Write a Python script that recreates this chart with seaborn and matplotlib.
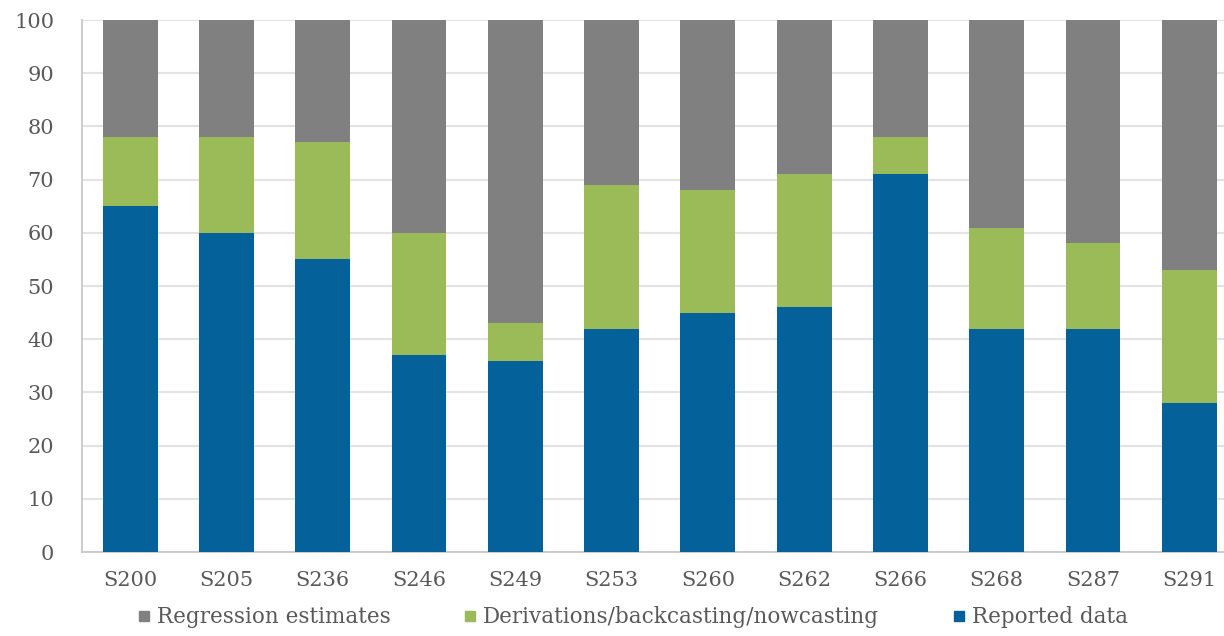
import numpy as np
import matplotlib
matplotlib.use('Agg')
import matplotlib.pyplot as plt
from matplotlib.lines import Line2D
from matplotlib.ticker import MultipleLocator, FixedLocator
import seaborn as sns

# Data (percent shares)
sites = ['S200', 'S205', 'S236', 'S246', 'S249', 'S253',
         'S260', 'S262', 'S266', 'S268', 'S287', 'S291']
reported = [65, 60, 55, 37, 36, 42, 45, 46, 71, 42, 42, 28]
derived = [13, 18, 22, 23, 7, 27, 23, 25, 7, 19, 16, 25]
regression = [22, 22, 23, 40, 57, 31, 32, 29, 22, 39, 42, 47]

c_reg = '#808080'
c_der = '#9bbb59'
c_rep = '#04619a'
txt = '#595959'

sns.set_style('white')
plt.rcParams['font.family'] = ['DejaVu Serif']

fig = plt.figure(figsize=(12.24, 6.36), dpi=100)
ax = fig.add_axes([0.067, 0.132, 0.944, 0.8365])

rep = np.array(reported)
der_top = rep + np.array(derived)
reg_top = der_top + np.array(regression)

# stacked by drawing cumulative totals, largest first
sns.barplot(x=sites, y=reg_top, color=c_reg, width=0.57, saturation=1, ax=ax, zorder=2)
sns.barplot(x=sites, y=der_top, color=c_der, width=0.57, saturation=1, ax=ax, zorder=3)
sns.barplot(x=sites, y=rep, color=c_rep, width=0.57, saturation=1, ax=ax, zorder=4)
for p in ax.patches:
    p.set_edgecolor('none')

ax.set_xlim(-0.5, 11.5)
ax.set_ylim(0, 100)
ax.yaxis.set_major_locator(MultipleLocator(10))
ax.grid(axis='y', color='#e3e3e3', linewidth=1.5, zorder=0)
ax.set_axisbelow(True)

for s in ['top', 'right']:
    ax.spines[s].set_visible(False)
for s in ['left', 'bottom']:
    ax.spines[s].set_color('#c8c8c8')
    ax.spines[s].set_linewidth(1.3)

ax.tick_params(axis='y', length=8, color='#c8c8c8', width=1.3,
               labelsize=15, labelcolor=txt, pad=12)
ax.tick_params(axis='x', which='major', length=0, labelsize=15,
               labelcolor=txt, pad=14)
ax.xaxis.set_minor_locator(FixedLocator(np.arange(-0.5, 12, 1)))
ax.tick_params(axis='x', which='minor', length=7, color='#c8c8c8', width=1.3)
ax.set_xlabel('')
ax.set_ylabel('')

handles = [Line2D([], [], marker='s', linestyle='none', color=c, markersize=7)
           for c in (c_reg, c_der, c_rep)]
labels = ['Regression estimates', 'Derivations/backcasting/nowcasting', 'Reported data']
leg = fig.legend(handles, labels, loc='lower center', bbox_to_anchor=(0.515, -0.018),
                 ncol=3, frameon=False, fontsize=15.5, columnspacing=3.2,
                 handletextpad=0.1, handlelength=1.0)
for t in leg.get_texts():
    t.set_color(txt)

fig.savefig('out.png', dpi=100)
